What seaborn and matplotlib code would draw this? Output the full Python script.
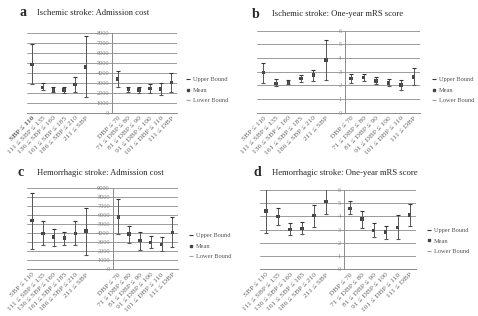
"""
Blood pressure categories vs. admission cost / one-year mRS, four error-bar panels.
"""
import numpy as np
import pandas as pd

import matplotlib
matplotlib.use('Agg')
import matplotlib.pyplot as plt
from matplotlib.lines import Line2D
import seaborn as sns

sns.set_style('white')
plt.rcParams['font.family'] = ['Liberation Serif', 'DejaVu Serif']

# ── Data ──────────────────────────────────────────────────────────────────────
SBP_LABELS = ['SBP ≤ 110', '111 ≤ SBP ≤ 135', '136 ≤ SBP ≤ 160',
              '161 ≤ SBP ≤ 185', '186 ≤ SBP ≤ 210', '211 ≤ SBP']
DBP_LABELS = ['DBP ≤ 70', '71 ≤ DBP ≤ 80', '81 ≤ DBP ≤ 90',
              '91 ≤ DBP ≤ 100', '101 ≤ DBP ≤ 110', '111 ≤ DBP']

# a: ischemic stroke, admission cost
A_MEAN  = [4800, 2520, 2260, 2290, 2820, 4560, 3350, 2300, 2290, 2420, 2370, 3000]
A_UPPER = [6820, 2950, 2600, 2620, 3560, 7650, 4150, 2600, 2600, 2850, 3000, 4000]
A_LOWER = [2880, 2270, 2040, 1980, 2050, 1560, 2600, 2040, 2000, 1980, 1790, 2050]

# b: ischemic stroke, one-year mRS
B_MEAN  = [2.93, 2.15, 2.26, 2.50, 2.75, 3.85, 2.51, 2.58, 2.33, 2.18, 2.02, 2.62]
B_UPPER = [3.66, 2.45, 2.42, 2.74, 3.15, 5.30, 2.86, 2.83, 2.58, 2.43, 2.37, 3.24]
B_LOWER = [2.18, 1.92, 2.10, 2.26, 2.30, 2.38, 2.18, 2.33, 2.12, 1.94, 1.68, 2.04]

# c: hemorrhagic stroke, admission cost
C_MEAN  = [5400, 4000, 3580, 3460, 4000, 4240, 5800, 3930, 3170, 3000, 2750, 4100]
C_UPPER = [8450, 5350, 4450, 4170, 5350, 6800, 7800, 4850, 4200, 3700, 3580, 5800]
C_LOWER = [2250, 2700, 2580, 2700, 2700, 1620, 3870, 2970, 2150, 2330, 1980, 2480]

# d: hemorrhagic stroke, one-year mRS
D_MEAN  = [4.42, 4.00, 3.02, 3.10, 4.05, 5.15, 4.62, 3.80, 2.95, 2.82, 3.18, 4.10]
D_UPPER = [6.05, 4.66, 3.48, 3.58, 4.86, 6.18, 5.16, 4.44, 3.50, 3.30, 4.12, 4.96]
D_LOWER = [2.75, 3.36, 2.58, 2.66, 3.22, 4.20, 4.18, 3.14, 2.45, 2.30, 2.28, 3.24]

BAR_COLOR  = '#555555'
LOW_COLOR  = '#a0a0a0'
GRID_COLOR = '#8c8c8c'
W, H = 478, 316


def px_rect(left, top, right, bottom):
    return [left / W, 1 - bottom / H, (right - left) / W, (bottom - top) / H]


def draw_panel(fig, rect, letter, letter_xy, title, title_x,
               mean, upper, lower, ymax, ystep, gap, legend_xy, bold_first=False):
    ax = fig.add_axes(px_rect(*rect))
    n = 12 + gap
    pos = list(range(6)) + list(range(6 + gap, n))
    df = pd.DataFrame({'x': pos, 'mean': mean, 'upper': upper, 'lower': lower})

    ax.yaxis.grid(True, color=GRID_COLOR, linewidth=0.6)
    ax.set_axisbelow(True)
    ax.vlines(df['x'], df['lower'], df['upper'], color=BAR_COLOR, linewidth=0.7)
    ax.plot(df['x'], df['upper'], linestyle='none', marker='_', markersize=3.5,
            markeredgewidth=0.8, color='#333333')
    ax.plot(df['x'], df['lower'], linestyle='none', marker='_', markersize=3.5,
            markeredgewidth=0.8, color=BAR_COLOR)
    sns.scatterplot(data=df, x='x', y='mean', marker='s', s=6, color='#444444',
                    edgecolor='none', legend=False, ax=ax, clip_on=False)

    ax.set_xlim(-0.5, n - 0.5)
    ax.set_ylim(0, ymax)
    ax.set_xlabel('')
    ax.set_ylabel('')

    # y axis sits between the blank slot(s) and the DBP group
    for s in ['top', 'right']:
        ax.spines[s].set_visible(False)
    ax.spines['left'].set_position(('data', 5.5 + gap))
    ax.spines['left'].set_color(GRID_COLOR)
    ax.spines['left'].set_linewidth(0.7)
    ax.spines['bottom'].set_color(GRID_COLOR)
    ax.spines['bottom'].set_linewidth(0.7)

    ticks = np.arange(0, ymax + ystep / 2, ystep)
    ax.set_yticks(ticks)
    ax.set_yticklabels([f'{v:g}' for v in ticks])
    ax.tick_params(axis='y', labelsize=4.6, colors='#888888', length=1.5,
                   width=0.5, pad=0.8)

    ax.set_xticks(pos)
    ax.set_xticklabels(SBP_LABELS + DBP_LABELS, rotation=45, ha='right',
                       rotation_mode='anchor', fontsize=5.4, color='#666666')
    if bold_first:
        ax.get_xticklabels()[0].set_fontweight('bold')
    ax.set_xticks(np.arange(-0.5, n, 1.0), minor=True)
    ax.tick_params(axis='x', which='major', length=0, pad=2)
    ax.tick_params(axis='x', which='minor', length=2.5, width=0.5,
                   color=GRID_COLOR, direction='out')

    fig.text(letter_xy[0] / W, 1 - letter_xy[1] / H, letter, fontsize=10,
             fontweight='bold', va='center', ha='left')
    fig.text(title_x / W, 1 - letter_xy[1] / H, title, fontsize=6.2,
             va='center', ha='left')

    handles = [
        Line2D([], [], linestyle='none', marker='_', markersize=3,
               markeredgewidth=0.8, color='#333333'),
        Line2D([], [], linestyle='none', marker='s', markersize=2,
               color='#444444'),
        Line2D([], [], linestyle='none', marker='_', markersize=3,
               markeredgewidth=0.8, color=LOW_COLOR),
    ]
    fig.legend(handles, ['Upper Bound', 'Mean', 'Lower Bound'],
               loc='upper left',
               bbox_to_anchor=(legend_xy[0] / W, 1 - legend_xy[1] / H),
               frameon=False, fontsize=4.6, handlelength=0.6, handletextpad=0.5,
               labelspacing=0.75, borderpad=0, borderaxespad=0,
               labelcolor='#555555')
    return ax


fig = plt.figure(figsize=(W / 100, H / 100), dpi=100)

draw_panel(fig, (26.7, 32.7, 176.7, 112.7), 'a', (19, 13),
           'Ischemic stroke: Admission cost', 37,
           A_MEAN, A_UPPER, A_LOWER, 8000, 1000, 2, (186, 77), bold_first=True)
draw_panel(fig, (257, 30.7, 420, 112.7), 'b', (252, 14),
           'Ischemic stroke: One-year mRS score', 272,
           B_MEAN, B_UPPER, B_LOWER, 6, 1, 1, (432, 77))
draw_panel(fig, (26.7, 188.3, 177.7, 269.3), 'c', (17, 173),
           'Hemorrhagic stroke: Admission cost', 37,
           C_MEAN, C_UPPER, C_LOWER, 9000, 1000, 2, (189, 233))
draw_panel(fig, (260, 190, 415.7, 269.3), 'd', (253, 173),
           'Hemorrhagic stroke: One-year mRS score', 272,
           D_MEAN, D_UPPER, D_LOWER, 6, 1, 1, (427, 228))

plt.savefig('out.png', dpi=100)
plt.close()
